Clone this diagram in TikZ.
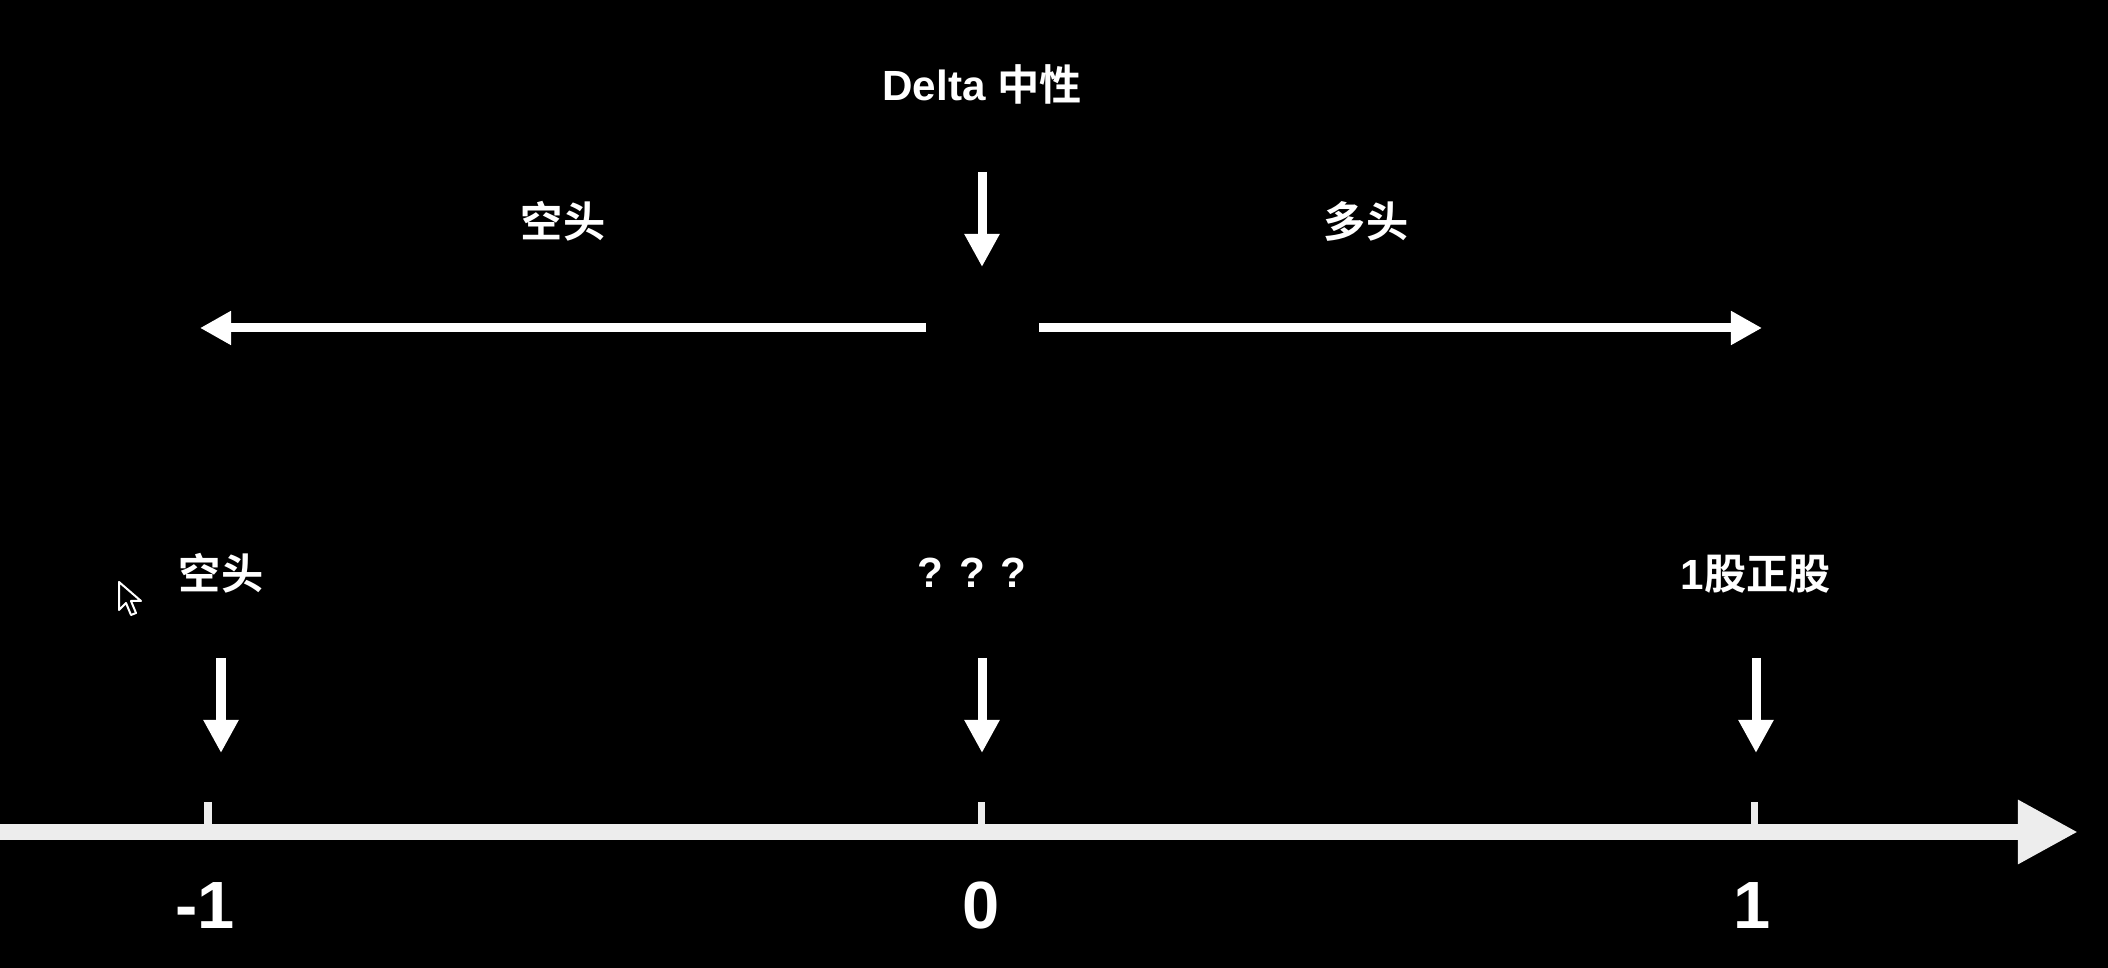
\documentclass[tikz,border=0pt]{standalone}
\usepackage{fontspec}
\newfontfamily\lat{Liberation Sans}
\newfontfamily\cjk{Noto Sans CJK SC}[BoldFont={Noto Sans CJK SC Bold}]
\usetikzlibrary{arrows.meta}
\begin{document}
\begin{tikzpicture}[x=0.01cm,y=-0.01cm,
  lbl/.style={text=white,font=\fontsize{12pt}{14pt}\selectfont\bfseries,inner sep=0pt},
  num/.style={text=white,font=\lat\fontsize{19pt}{22pt}\selectfont\bfseries,inner sep=0pt},
  darr/.style={draw=white,line width=0.09cm,-{Triangle[length=0.33cm,width=0.33cm]}},
  harr/.style={draw=white,line width=0.09cm,-{Triangle[length=0.31cm,width=0.32cm]}},
  axisline/.style={draw=white!93!black,line width=0.16cm,-{Triangle[length=0.6cm,width=0.6cm]}},
  tickmark/.style={draw=white!93!black,line width=0.07cm}]
\fill[black] (0,0) rectangle (2108,968);
\useasboundingbox (0,0) rectangle (2108,968);
% top
\node[lbl] (delta) at (982,84) {\lat Delta \cjk 中性};
\coordinate (ts) at (982,172);
\coordinate (te) at (982,267);
\draw[darr] (ts) -- (te);
\node[lbl] (short) at (563,221) {\cjk 空头};
\node[lbl] (long) at (1366,221) {\cjk 多头};
\coordinate (ls) at (926,328);
\coordinate (le) at (200,328);
\coordinate (rs) at (1039,328);
\coordinate (re) at (1762,328);
\draw[harr] (ls) -- (le);
\draw[harr] (rs) -- (re);
% bottom labels
\node[lbl] (shortB) at (221,573) {\cjk 空头};
\node[lbl] (qq) at (972,573) {\lat ? ? ?};
\node[lbl] (stock) at (1756,574) {\lat 1\cjk 股正股};
\coordinate (a1s) at (221,658); \coordinate (a1e) at (221,753);
\coordinate (a2s) at (982,658); \coordinate (a2e) at (982,753);
\coordinate (a3s) at (1756,658); \coordinate (a3e) at (1756,753);
\draw[darr] (a1s) -- (a1e);
\draw[darr] (a2s) -- (a2e);
\draw[darr] (a3s) -- (a3e);
% axis
\coordinate (t1a) at (208,802); \coordinate (t1b) at (208,832);
\coordinate (t2a) at (981,802); \coordinate (t2b) at (981,832);
\coordinate (t3a) at (1754,802); \coordinate (t3b) at (1754,832);
\draw[tickmark] (t1a) -- (t1b);
\draw[tickmark] (t2a) -- (t2b);
\draw[tickmark] (t3a) -- (t3b);
\coordinate (ax0) at (0,832);
\coordinate (ax1) at (2078,832);
\draw[axisline] (ax0) -- (ax1);
\node[num] (m1) at (205,906) {-1};
\node[num] (z0) at (981,906) {0};
\node[num] (p1) at (1752,906) {1};
% mouse cursor
\draw[white,line width=0.02cm,fill=black,line join=round]
  (119,582) -- (119,610) -- (126,603) -- (131,615) -- (136,613) -- (131,601) -- (141,601) -- cycle;
\end{tikzpicture}
\end{document}
